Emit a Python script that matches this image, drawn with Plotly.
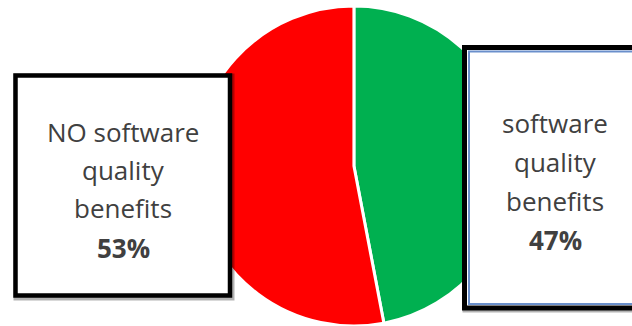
import plotly.graph_objects as go

# Data
labels = ["software quality benefits", "NO software quality benefits"]
label_lines = [["software", "quality", "benefits"], ["NO software", "quality", "benefits"]]
values = [47, 53]
colors = ["#00B050", "#FF0000"]

W, H = 632, 326
T, B = 6, 0
PH = H - T - B


def px(x):
    return x / W


def py(y):
    return (H - B - y) / PH


fig = go.Figure()
fig.add_trace(go.Pie(
    labels=labels, values=values, sort=False, direction="clockwise", rotation=0,
    marker=dict(colors=colors, line=dict(color="white", width=3)),
    textinfo="none", hoverinfo="label+percent", showlegend=False,
    domain=dict(x=[0.56 - 0.3, 0.56 + 0.3], y=[0, 1]),
))

shapes = []
# left box: soft shadow + border
shapes.append(dict(type="rect", xref="paper", yref="paper", layer="above",
                   x0=px(16.5), x1=px(231.5), y0=py(76.5), y1=py(297.5),
                   line=dict(color="rgba(0,0,0,0.3)", width=6), fillcolor="rgba(0,0,0,0)"))
shapes.append(dict(type="rect", xref="paper", yref="paper", layer="above",
                   x0=px(15.5), x1=px(230), y0=py(75.5), y1=py(295.5),
                   line=dict(color="black", width=4.5), fillcolor="white"))
# right box
shapes.append(dict(type="rect", xref="paper", yref="paper", layer="above",
                   x0=px(465.5), x1=px(645), y0=py(48.5), y1=py(309.5),
                   line=dict(color="rgba(0,0,0,0.3)", width=6), fillcolor="rgba(0,0,0,0)"))
shapes.append(dict(type="rect", xref="paper", yref="paper", layer="above",
                   x0=px(464.5), x1=px(645), y0=py(47.5), y1=py(308),
                   line=dict(color="black", width=5), fillcolor="white"))
shapes.append(dict(type="rect", xref="paper", yref="paper", layer="above",
                   x0=px(469), x1=px(645), y0=py(51.5), y1=py(304),
                   line=dict(color="#6A8FCB", width=2), fillcolor="rgba(0,0,0,0)"))

annotations = []
font = dict(family="'Open Sans', Lato, sans-serif", size=26, color="#404040")
# positions (pixels) for each box's lines
box_pos = {
    0: dict(x=555, ys=[123, 162, 201, 240]),
    1: dict(x=123, ys=[132, 170, 208, 248]),
}
for i in range(len(labels)):
    pos = box_pos[i]
    texts = label_lines[i] + [f"<b>{values[i]}%</b>"]
    for t, y in zip(texts, pos["ys"]):
        annotations.append(dict(xref="paper", yref="paper", x=px(pos["x"]), y=py(y),
                                text=t, showarrow=False, xanchor="center", yanchor="middle",
                                font=font))

fig.update_layout(
    width=W, height=H, margin=dict(l=0, r=0, t=T, b=B),
    paper_bgcolor="white", plot_bgcolor="white",
    shapes=shapes, annotations=annotations,
)

fig.write_html("out.html", config={"displayModeBar": False},
               post_script="document.body.style.margin='0';document.body.style.overflow='hidden';")
